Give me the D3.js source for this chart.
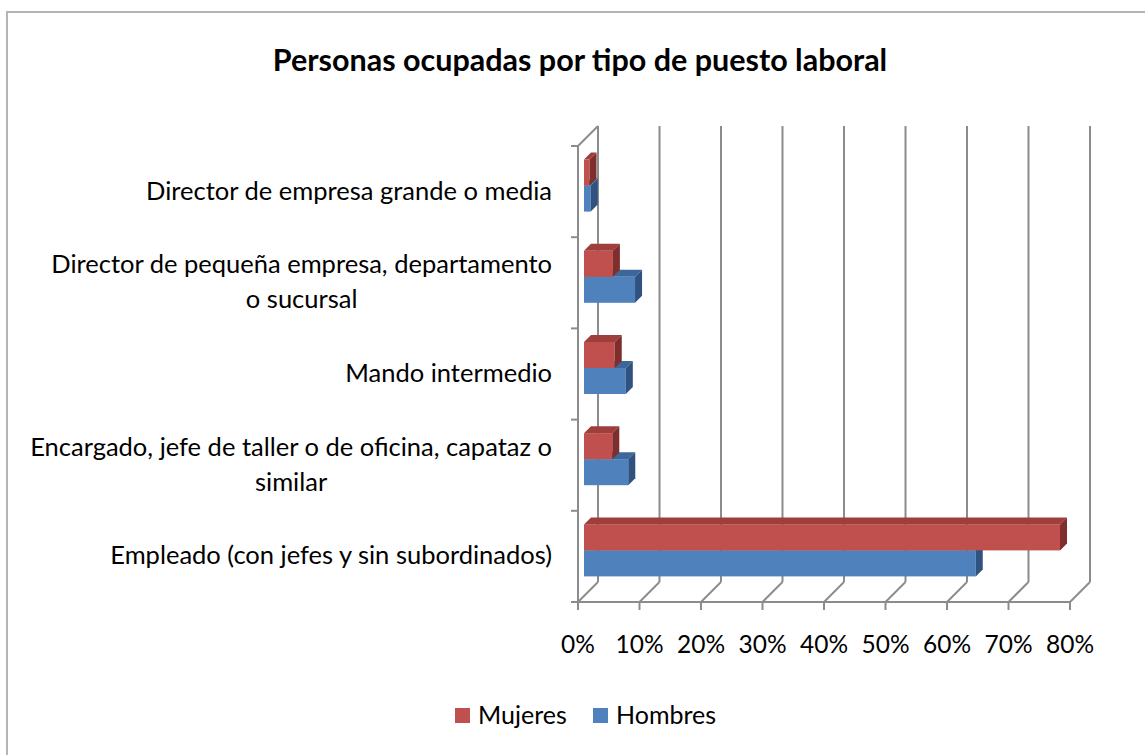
<!DOCTYPE html>
<html>
<head>
<meta charset="utf-8">
<script src="https://cdn.jsdelivr.net/npm/d3@7"></script>
<style>
  body { margin: 0; background: #fff; }
  svg { display: block; font-family: Lato, "Open Sans", sans-serif; }
</style>
</head>
<body>
<div class="chart"></div>
<script>
// datos
const categories = [
  "Director de empresa grande o media",
  "Director de pequeña empresa, departamento\no sucursal",
  "Mando intermedio",
  "Encargado, jefe de taller o de oficina, capataz o\nsimilar",
  "Empleado (con jefes y sin subordinados)"
];
const seriesNames = ["Mujeres", "Hombres"];
const mujeres = [0.009, 0.047, 0.050, 0.046, 0.774];
const hombres = [0.011, 0.083, 0.068, 0.072, 0.637];
const tickValues = [0, 0.1, 0.2, 0.3, 0.4, 0.5, 0.6, 0.7, 0.8];
const colors = { Mujeres: ["#C0504D", "#9E3F3C", "#7E2F2D"], Hombres: ["#4F81BD", "#3E6799", "#2F5281"] };

let chart = {
  config: {
    W: 1145, H: 755,
    left: 578, right: 1070,
    top: 146, bottom: 602,
    wall: 20,     // profundidad de la pared
    barOff: 6,    // profundidad de la cara frontal de la barra
    barDepth: 7,
    barH: 26,
    grid: "#8c8c8c"
  },
  init: function () {
    const c = this.config;
    this.svg = d3.select('.chart').append('svg')
      .attr('width', c.W).attr('height', c.H);
    this.x = d3.scaleLinear().domain([0, 0.8]).range([c.left, c.right]);
    this.y = d3.scaleBand().domain(categories).range([c.top, c.bottom]);
    this.frame();
    this.walls();
    this.bars();
    this.labels();
    this.legend();
  },
  frame: function () {
    this.svg.append('rect')
      .attr('x', 7).attr('y', 12)
      .attr('width', this.config.W).attr('height', this.config.H)
      .attr('fill', 'none').attr('stroke', '#b4b4b4').attr('stroke-width', 2);
    this.svg.append('text')
      .attr('x', 580).attr('y', 71)
      .attr('text-anchor', 'middle')
      .style('font-weight', 'bold').style('font-size', '30.5px')
      .text('Personas ocupadas por tipo de puesto laboral');
  },
  walls: function () {
    const c = this.config, x = this.x, y = this.y;
    const g = this.svg.append('g').attr('class', 'walls')
      .attr('stroke', c.grid).attr('stroke-width', 2).attr('fill', 'none');
    // líneas verticales de la pared del fondo
    g.selectAll('line.back').data(tickValues).enter().append('line')
      .attr('x1', d => x(d) + c.wall).attr('x2', d => x(d) + c.wall)
      .attr('y1', c.top - c.wall).attr('y2', c.bottom - c.wall);
    // diagonales del suelo
    g.selectAll('line.floor').data(tickValues).enter().append('line')
      .attr('x1', d => x(d)).attr('x2', d => x(d) + c.wall)
      .attr('y1', c.bottom).attr('y2', c.bottom - c.wall);
    // marcas inferiores
    g.selectAll('line.tick').data(tickValues).enter().append('line')
      .attr('x1', d => x(d)).attr('x2', d => x(d))
      .attr('y1', c.bottom).attr('y2', c.bottom + 8);
    // eje frontal
    g.append('line').attr('x1', x(0)).attr('x2', x(0.8)).attr('y1', c.bottom).attr('y2', c.bottom);
    g.append('line').attr('x1', x(0)).attr('x2', x(0)).attr('y1', c.top).attr('y2', c.bottom);
    g.append('line').attr('x1', x(0)).attr('x2', x(0) + c.wall).attr('y1', c.top).attr('y2', c.top - c.wall);
    // marcas del eje de categorías
    const bounds = categories.map(d => y(d)).concat([c.bottom]);
    g.selectAll('line.ytick').data(bounds).enter().append('line')
      .attr('x1', x(0) - 7).attr('x2', x(0))
      .attr('y1', d => d).attr('y2', d => d);
    // etiquetas del eje x
    this.svg.append('g').selectAll('text').data(tickValues).enter().append('text')
      .attr('x', d => x(d)).attr('y', 653)
      .attr('text-anchor', 'middle')
      .style('font-size', '24.5px')
      .text(d3.format('.0%'));
  },
  bars: function () {
    const c = this.config, x = this.x, y = this.y;
    const rows = [];
    categories.forEach((cat, i) => {
      const mid = y(cat) + y.bandwidth() / 2 - c.barOff;
      // primero Hombres (abajo), luego Mujeres encima
      rows.push({ s: 'Hombres', v: hombres[i], yt: mid, yb: mid + c.barH });
      rows.push({ s: 'Mujeres', v: mujeres[i], yt: mid - c.barH, yb: mid });
    });
    const d = c.barDepth;
    const g = this.svg.append('g').attr('class', 'bars');
    const bar = g.selectAll('g.bar').data(rows).enter().append('g').attr('class', 'bar');
    bar.append('rect')
      .attr('x', r => x(0) + c.barOff)
      .attr('y', r => r.yt)
      .attr('width', r => x(r.v) - x(0))
      .attr('height', c.barH)
      .attr('fill', r => colors[r.s][0]);
    bar.append('polygon')
      .attr('points', r => {
        const x0 = x(0) + c.barOff, x1 = x(r.v) + c.barOff;
        return [[x0, r.yt], [x0 + d, r.yt - d], [x1 + d, r.yt - d], [x1, r.yt]].join(' ');
      })
      .attr('fill', r => colors[r.s][1]);
    bar.append('polygon')
      .attr('points', r => {
        const x1 = x(r.v) + c.barOff;
        return [[x1, r.yt], [x1 + d, r.yt - d], [x1 + d, r.yb - d], [x1, r.yb]].join(' ');
      })
      .attr('fill', r => colors[r.s][2]);
  },
  labels: function () {
    const y = this.y;
    const lineH = 35, rightX = 552;
    const g = this.svg.append('g').attr('class', 'ylabels').style('font-size', '25.5px');
    categories.forEach(cat => {
      const t = g.append('text').attr('text-anchor', 'middle');
      const lines = cat.split('\n');
      let widest = 0;
      lines.forEach(l => {
        t.text(l);
        widest = Math.max(widest, t.node().getComputedTextLength());
      });
      t.text(null);
      // bloque alineado a la derecha, líneas centradas
      const cx = rightX - widest / 2;
      const mid = y(cat) + y.bandwidth() / 2 + 8;
      lines.forEach((l, i) => {
        t.append('tspan')
          .attr('x', cx)
          .attr('y', mid + (i - (lines.length - 1) / 2) * lineH)
          .text(l);
      });
    });
  },
  legend: function () {
    const pos = [{ sq: 455, tx: 478 }, { sq: 593, tx: 616 }];
    const g = this.svg.append('g').attr('class', 'legend');
    const item = g.selectAll('g').data(seriesNames).enter().append('g');
    item.append('rect')
      .attr('x', (d, i) => pos[i].sq).attr('y', 708)
      .attr('width', 15).attr('height', 15)
      .attr('fill', d => colors[d][0]);
    item.append('text')
      .attr('x', (d, i) => pos[i].tx).attr('y', 724)
      .style('font-size', '25px')
      .text(d => d);
  }
};

chart.init();
</script>
</body>
</html>
